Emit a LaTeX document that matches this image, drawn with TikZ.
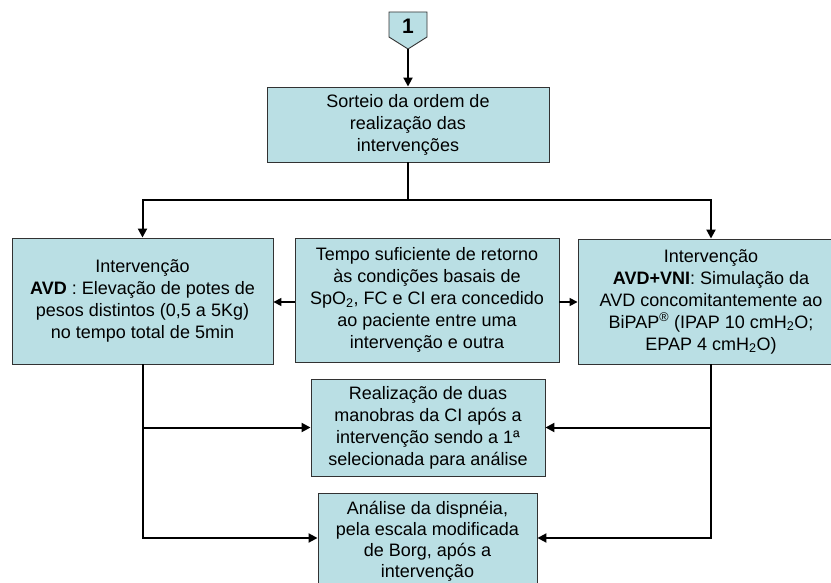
\documentclass[tikz,border=0pt]{standalone}
\usepackage{fontspec}
\setmainfont{Liberation Sans}
\usetikzlibrary{arrows.meta}
\definecolor{boxfill}{RGB}{186,223,228}
\definecolor{boxline}{RGB}{50,50,50}
\begin{document}
\begin{tikzpicture}[x=1pt,y=-1pt,
  box/.style={draw=boxline, line width=0.9pt, fill=boxfill, inner sep=0pt, align=center, font=\fontsize{18}{22}\selectfont},
  conn/.style={line width=2pt, draw=black},
  arr/.style={conn, -{Triangle[length=9pt,width=9pt]}},
  sarr/.style={line width=1.6pt, draw=black, -{Triangle[length=8pt,width=8pt]}}]
\useasboundingbox (0,0) rectangle (831,583);
\clip (0,0) rectangle (831,583);
% start marker
\filldraw[fill=boxfill, draw=boxline, line width=0.9pt] (389,12) -- (427,12) -- (427,37) -- (408,49) -- (389,37) -- cycle;
\node[font=\bfseries\fontsize{21}{24}\selectfont, inner sep=0pt] (one) at (408,26) {1};
\coordinate (onetip) at (408,49);
% boxes
\node[box, minimum width=282pt, minimum height=75pt] (sort) at (408,124.5) {Sorteio da ordem de\\realização das\\intervenções};
\node[box, minimum width=261pt, minimum height=126pt] (avd) at (142.5,301) {Intervenção\\\textbf{AVD} : Elevação de potes de\\pesos distintos (0,5 a 5Kg)\\no tempo total de 5min};
\node[box, minimum width=264pt, minimum height=124pt] (mid) at (427,300) {Tempo suficiente de retorno\\às condições basais de\\SpO\textsubscript{2}, FC e CI era concedido\\ao paciente entre uma\\intervenção e outra};
\node[box, minimum width=266pt, minimum height=125pt] (vni) at (711,301.5) {Intervenção\\\textbf{AVD+VNI}: Simulação da\\AVD concomitantemente ao\\BiPAP\textsuperscript{®} (IPAP 10 cmH\textsubscript{2}O;\\EPAP 4 cmH\textsubscript{2}O)};
\node[box, minimum width=234pt, minimum height=97pt] (real) at (428,427.5) {Realização de duas\\manobras da CI após a\\intervenção sendo a 1ª\\selecionada para análise};
\node[box, minimum width=219pt, minimum height=96pt, font=\fontsize{18}{21}\selectfont] (anal) at (427.5,541) {Análise da dispnéia,\\pela escala modificada\\de Borg, após a\\intervenção};
% connectors
\coordinate (split) at (408,200);
\draw[arr] (onetip) -- (sort.north);
\draw[conn] (sort.south) -- (split);
\draw[arr] (split) -| (avd.north);
\draw[arr] (split) -| (vni.north);
\draw[sarr] ([yshift=-2pt]mid.west) -- ([yshift=-2pt]mid.west -| avd.east);
\draw[sarr] ([yshift=-2pt]mid.east) -- ([yshift=-2pt]mid.east -| vni.west);
\draw[arr] (avd.south) |- ([yshift=3pt]anal.west);
\draw[arr] (avd.south |- real.west) -- (real.west);
\draw[arr] (vni.south) |- ([yshift=3pt]anal.east);
\draw[arr] (vni.south |- real.east) -- (real.east);
\end{tikzpicture}
\end{document}
